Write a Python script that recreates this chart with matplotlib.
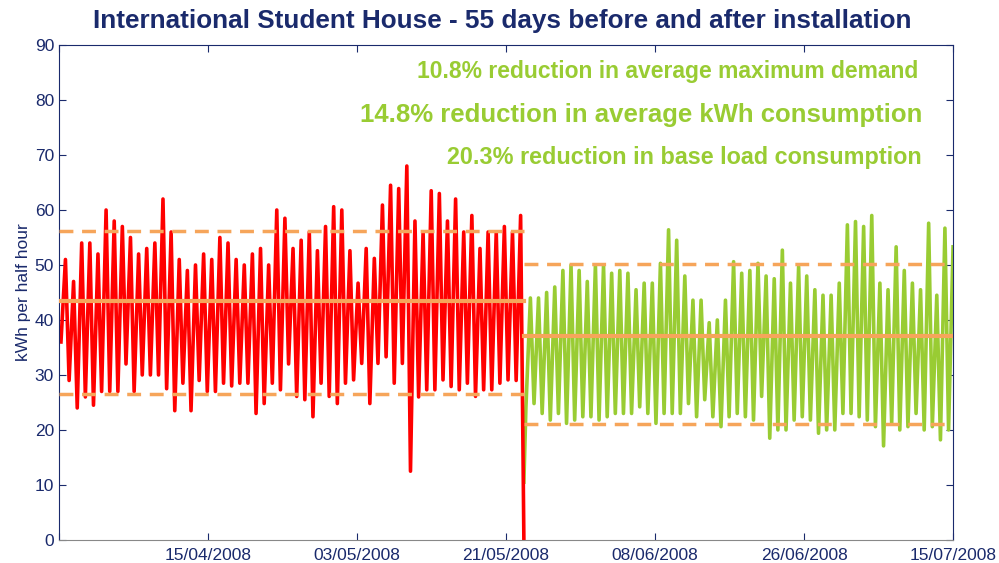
import numpy as np
import matplotlib
matplotlib.use('Agg')
import matplotlib.pyplot as plt

plt.rcParams['font.family'] = ['Liberation Sans', 'DejaVu Sans']

# daily peaks / night-time lows (kWh per half hour)
before_peaks = [51, 47, 54, 54, 52, 60, 58, 57, 55, 52, 53, 54, 62, 56, 51, 49, 50, 52, 51, 55, 54, 51,
                50, 52, 53, 50, 60, 58.5, 53, 54.5, 56, 52.6, 57, 60.6, 60, 52.6, 46.7, 53, 51.2, 60.9, 64.5, 63.9, 68,
                58, 56, 63.5, 63, 58, 62, 56, 59, 53, 56, 56, 57, 56, 59]
before_lows = [36, 29, 24, 26, 24.5, 27, 27, 27, 32, 27, 30, 30, 30, 27.5, 23.5, 28.5, 23.5, 29, 27, 27, 28.5, 28,
               28.5, 28.5, 23, 24.8, 28.5, 27.3, 32, 26.1, 25.5, 22.4, 28.5, 26.1, 24.8, 28.5, 29.1, 32.1, 24.8, 32.1, 33.3, 28.5, 32.1,
               12.5, 26, 27.3, 27.3, 29.1, 27.9, 27.3, 28.5, 26.1, 27.3, 27.3, 28.5, 29.1, 29]
after_peaks = [44, 44, 45, 46, 49, 50, 49,
               47, 50, 50, 48.5, 49, 48.5, 45.5, 46.7, 46.7, 50.3, 56.4, 54.5, 48, 43.6, 43.6, 39.5, 40, 43.6, 50.6, 48.5, 49, 50.3,
               48, 47.5, 52.7, 46.7, 49.7, 48, 45.5, 44.5, 44.5, 46.7, 57.3, 57.9, 57, 59, 46.7, 45.5, 53.3, 49, 46.7, 45.5, 57.6, 44.5, 56.7, 53.3]
after_lows = [24, 24.8, 23, 21.8, 23, 21.2, 21.8,
              22.4, 22.4, 21.8, 22.4, 23, 23, 23, 24.2, 23, 21.2, 23, 23, 23, 24.8, 22.4, 25.5, 22.4, 20.6, 22.4, 23, 22.4, 21.8,
              26.1, 18.5, 20, 20, 21.8, 22.4, 21.8, 19.4, 20, 20, 23, 23, 22.4, 21.8, 20.6, 17.1, 21.2, 20, 20.6, 23, 20, 20.6, 18.2, 20]
drop_value = 0.0      # last reading before the installation
restart_value = 10.5  # first reading after it

# averages (max demand, mean, base load)
before_stats = [56.2, 43.5, 26.5]
after_stats = [50.1, 37.1, 21.1]

tick_labels = ['', '15/04/2008', '03/05/2008', '21/05/2008', '08/06/2008', '26/06/2008', '15/07/2008']
notes = ['10.8% reduction in average maximum demand',
         '14.8% reduction in average kWh consumption',
         '20.3% reduction in base load consumption']

total_days = 110
switch = 57.2


def day_path(start, lows, peaks):
    t, v = [], []
    for i, (lo, hi) in enumerate(zip(lows, peaks)):
        t += [start + i + 0.25, start + i + 0.8]
        v += [lo, hi]
    return t, v


bt, bv = day_path(0, before_lows, before_peaks)
at, av = day_path(switch, after_lows, after_peaks)
bt.append(switch); bv.append(drop_value)
at.insert(0, switch); av.insert(0, restart_value)

navy = '#1a2a6c'
green = '#99cc33'
orange = '#f6a55a'

fig = plt.figure(figsize=(9.99, 5.63), dpi=100)
ax = fig.add_axes([0.059, 0.041, 0.895, 0.879])

ax.plot(at, av, color=green, lw=2.6, zorder=2)
ax.plot(bt, bv, color='#ff0000', lw=2.6, zorder=2)

for (x0, x1), stats in [((0, switch), before_stats), ((switch, total_days), after_stats)]:
    ax.plot([x0, x1], [stats[0]] * 2, color=orange, lw=2.5, ls=(0, (4, 2.5)), zorder=3)
    ax.plot([x0, x1], [stats[1]] * 2, color=orange, lw=3, zorder=3)
    ax.plot([x0, x1], [stats[2]] * 2, color=orange, lw=2.5, ls=(0, (4, 2.5)), zorder=3)

ax.set_xlim(0, total_days)
ax.set_ylim(0, 90)
ax.set_xticks(np.linspace(0, total_days, 7))
ax.set_xticklabels(tick_labels)
ax.set_yticks(range(0, 91, 10))
ax.tick_params(direction='in', top=True, right=True, colors=navy, labelsize=12.5, length=5)
ax.tick_params(axis='x', pad=6)
for s in ax.spines.values():
    s.set_color(navy)
ax.spines['bottom'].set_color('#888888')
ax.set_ylabel('kWh per half hour', color=navy, fontsize=12.5, labelpad=3)

ax.text(105.7, 85.1, notes[0], color=green, fontsize=16.5, fontweight='bold', ha='right', va='center')
ax.text(106.2, 77.3, notes[1], color=green, fontsize=18.5, fontweight='bold', ha='right', va='center')
ax.text(106.2, 69.6, notes[2], color=green, fontsize=16.8, fontweight='bold', ha='right', va='center')

fig.text(0.503, 0.962, 'International Student House - 55 days before and after installation',
         color=navy, fontsize=18.8, fontweight='bold', ha='center', va='center')

fig.savefig('out.png', dpi=100)
